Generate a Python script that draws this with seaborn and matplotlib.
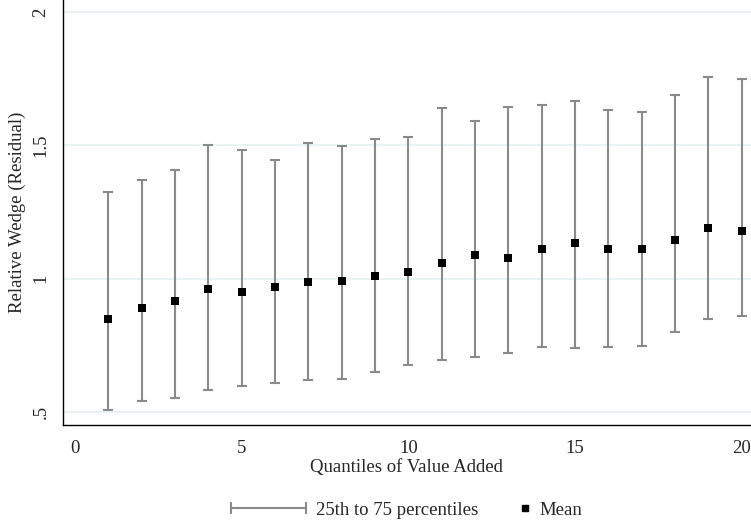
import numpy as np
import pandas as pd
import seaborn as sns
import matplotlib
matplotlib.use("Agg")
import matplotlib.pyplot as plt
from matplotlib.lines import Line2D
from matplotlib.legend_handler import HandlerLine2D

# values
quantile = list(range(1, 21))
mean_wedge = [0.850, 0.890, 0.915, 0.963, 0.952, 0.971, 0.989, 0.990, 1.011, 1.026,
              1.060, 1.089, 1.079, 1.112, 1.135, 1.111, 1.110, 1.146, 1.189, 1.180]
p25 = [0.509, 0.542, 0.555, 0.584, 0.599, 0.610, 0.620, 0.624, 0.650, 0.677,
       0.694, 0.708, 0.721, 0.746, 0.741, 0.744, 0.749, 0.802, 0.851, 0.862]
p75 = [1.326, 1.371, 1.409, 1.501, 1.484, 1.446, 1.510, 1.496, 1.524, 1.530,
       1.642, 1.593, 1.645, 1.650, 1.666, 1.634, 1.626, 1.690, 1.757, 1.749]

x_ticks = [0, 5, 10, 15, 20]
y_ticks = [0.5, 1, 1.5, 2]
y_ticklabels = [".5", "1", "1.5", "2"]

df = pd.DataFrame({"q": quantile, "mean": mean_wedge, "p25": p25, "p75": p75})

sns.set_style("white")
plt.rcParams['font.family'] = ['Liberation Serif', 'DejaVu Serif']
plt.rcParams['font.size'] = 13.5

bar_col = "#8a8a8a"

fig = plt.figure(figsize=(7.51, 5.29), dpi=100)
ax = fig.add_axes([0.0835, 0.1966, 0.9165, 0.8034])

# horizontal grid
for yv in y_ticks:
    ax.axhline(yv, color="#e9f1f2", lw=1.3, zorder=0)

# 25th-75th percentile ranges
ax.errorbar(df["q"], df["mean"],
            yerr=[df["mean"] - df["p25"], df["p75"] - df["mean"]],
            fmt="none", ecolor=bar_col, elinewidth=1.5, capsize=3.6, capthick=1.5, zorder=2)

# means
sns.scatterplot(data=df, x="q", y="mean", marker="s", color="black", s=36,
                edgecolor="black", linewidth=0, zorder=3, ax=ax, legend=False)

ax.set_xlim(-0.37, 20.28)
ax.set_ylim(0.452, 2.045)
ax.set_xticks(x_ticks)
ax.set_yticks(y_ticks)
ax.set_yticklabels(y_ticklabels, rotation=90, va="center")
ax.tick_params(axis="both", direction="out", length=5.5, width=1, color="black", pad=4)
ax.tick_params(axis="x", pad=5)

for side in ["top", "right"]:
    ax.spines[side].set_visible(False)
for side in ["left", "bottom"]:
    ax.spines[side].set_color("black")
    ax.spines[side].set_linewidth(1.0)

ax.set_xlabel("Quantiles of Value Added", labelpad=2)
ax.set_ylabel("Relative Wedge (Residual)", labelpad=5)

# legend under the plot (two pieces so each key gets its own width)
h_range = Line2D([], [], color=bar_col, lw=1.5, marker="|", markersize=8, markeredgewidth=1.5)
h_mean = Line2D([], [], color="black", lw=0, marker="s", markersize=4.5)
leg1 = fig.legend([h_range], ["25th to 75 percentiles"],
                  loc="center left", bbox_to_anchor=(231 / 751, 0.036), frameon=False,
                  borderpad=0, borderaxespad=0, handlelength=4.0, handletextpad=0.55,
                  handler_map={h_range: HandlerLine2D(numpoints=2, marker_pad=0)})
leg2 = fig.legend([h_mean], ["Mean"],
                  loc="center left", bbox_to_anchor=(519 / 751, 0.036), frameon=False,
                  borderpad=0, borderaxespad=0, handlelength=0.6, handletextpad=0.5,
                  handler_map={h_mean: HandlerLine2D(numpoints=1)})

fig.savefig("out.png", dpi=100)
